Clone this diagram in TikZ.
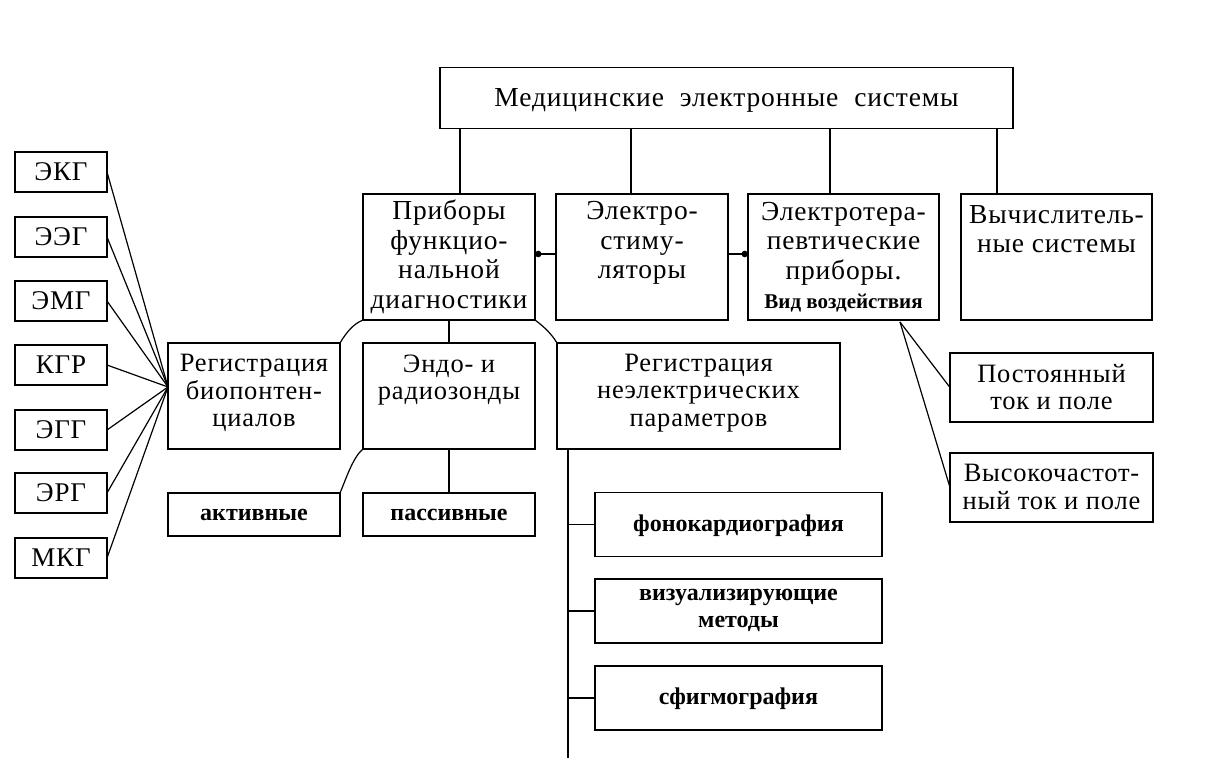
\documentclass[tikz,border=0pt]{standalone}
\usepackage{fontspec}
\setmainfont{Liberation Serif}[LetterSpace=3]
\newfontfamily\plainf{Liberation Serif}
\usetikzlibrary{arrows.meta,calc}
\newcommand\bigtxt{\fontsize{27.5}{29.5}\selectfont}
\newcommand\midtxt{\fontsize{26.5}{27.5}\selectfont}
\newcommand\lowtxt{\plainf\bfseries\fontsize{24}{27}\selectfont}
\newcommand\vidtxt{\plainf\bfseries\fontsize{21}{27}\selectfont}
\newcommand\keytxt{\fontsize{27}{29}\selectfont}
\begin{document}
\begin{tikzpicture}[x=1pt,y=-1pt,
  box/.style={draw, line width=1.5pt, inner sep=0pt, outer sep=0pt},
  txt/.style={align=center, inner sep=0pt, font=\bigtxt},
  mtxt/.style={align=center, inner sep=0pt, font=\midtxt},
  ltxt/.style={align=center, inner sep=0pt, font=\lowtxt},
  ktxt/.style={align=center, inner sep=0pt, font=\keytxt},
  ln/.style={line width=1.2pt},
  dot/.style={line width=1.2pt, -{Circle[length=6.5pt]}}
]
\useasboundingbox (0,0) rectangle (1228,767);

% top
\node[box, minimum width=573pt, minimum height=61pt] (top) at (726.5,98) {};
\node[txt] (topT) at (726.5,100) {Медицинские\hspace{0.3em} электронные\hspace{0.3em} системы};

% second row
\node[box, minimum width=172pt, minimum height=126pt] (A) at (449,257) {};
\node[box, minimum width=172pt, minimum height=126pt] (B) at (642,257) {};
\node[box, minimum width=191pt, minimum height=126pt] (C) at (843.5,257) {};
\node[box, minimum width=191pt, minimum height=126pt] (D) at (1056.5,257) {};
\node[txt] (AT) at (449,257) {Приборы\\функцио-\\нальной\\диагностики};
\node[txt] (BT) at (642,243) {Электро-\\стиму-\\ляторы};
\node[txt] (CT) at (843.5,257) {Электротера-\\певтические\\приборы.\\{\vidtxt Вид воздействия}};
\node[txt] (DT) at (1056.5,229) {Вычислитель-\\ные системы};

% third row
\node[box, minimum width=172pt, minimum height=106pt] (R1) at (254,396) {};
\node[box, minimum width=172pt, minimum height=106pt] (R2) at (449,396) {};
\node[box, minimum width=283pt, minimum height=106pt] (R3) at (698.5,396) {};
\node[mtxt] (R1T) at (254,393) {Регистрация\\биопонтен-\\циалов};
\node[mtxt] (R2T) at (449,380) {Эндо- и\\радиозонды};
\node[mtxt] (R3T) at (698.5,393) {Регистрация\\неэлектрических\\параметров};

% fourth row
\node[box, minimum width=172pt, minimum height=43pt] (act) at (254,514.5) {};
\node[box, minimum width=172pt, minimum height=43pt] (pas) at (449,514.5) {};
\node[ltxt] (actT) at (254,515) {активные};
\node[ltxt] (pasT) at (449,515) {пассивные};

% non-electric column
\node[box, minimum width=287pt, minimum height=64pt] (F1) at (738.5,524.5) {};
\node[box, minimum width=287pt, minimum height=64pt] (F2) at (738.5,611) {};
\node[box, minimum width=287pt, minimum height=64pt] (F3) at (738.5,698) {};
\node[ltxt] (F1T) at (738.5,526) {фонокардиография};
\node[ltxt] (F2T) at (738.5,610) {визуализирующие\\методы};
\node[ltxt] (F3T) at (738.5,699) {сфигмография};

% right column
\node[box, minimum width=203pt, minimum height=69pt] (P) at (1051.5,387.5) {};
\node[box, minimum width=203pt, minimum height=69pt] (V) at (1051.5,487.5) {};
\node[mtxt] (PT) at (1051.5,387) {Постоянный\\ток и поле};
\node[mtxt] (VT) at (1051.5,487) {Высокочастот-\\ный ток и поле};

% left column
\foreach \nm/\t/\yy in {k1/ЭКГ/172, k2/ЭЭГ/237, k3/ЭМГ/301, k4/КГР/365, k5/ЭГГ/430, k6/ЭРГ/493, k7/МКГ/558}{
  \node[box, minimum width=92pt, minimum height=40pt] (\nm) at (61,\yy) {};
  \node[ktxt] (\nm T) at (61,\yy) {\t};
}

% connectors: top to second row
\coordinate (x1) at (460,0);
\coordinate (x2) at (631,0);
\coordinate (x3) at (830,0);
\coordinate (x4) at (997,0);
\foreach \xx/\bb in {x1/A, x2/B, x3/C, x4/D}{
  \draw[ln] (top.south -| \xx) -- (\bb.north -| \xx);
}
\coordinate (yarr) at (0,254);
\draw[dot] (B.west |- yarr) -- (A.east |- yarr);
\draw[dot] (B.east |- yarr) -- (C.west |- yarr);

% A to third row
\draw[ln] (A.south) -- (R2.north);
\draw[ln] (A.south west) .. controls +(-10,4) and +(6,-10) .. (R1.north east);
\draw[ln] (A.south east) .. controls +(8,6) and +(-6,-10) .. (R3.north west);

% R2 to fourth row
\draw[ln] (R2.south) -- (pas.north);
\draw[ln] (R2.south west) .. controls +(-10,8) and +(6,-14) .. (act.north east);

% non-electric branch
\coordinate (xv) at (568,0);
\coordinate (yend) at (0,758);
\draw[ln] (R3.south -| xv) -- (xv |- yend);
\foreach \ff in {F1,F2,F3}{
  \draw[ln] (xv |- \ff.west) -- (\ff.west);
}

% left column to R1
\coordinate (conv) at ($(R1.west)+(0,-9)$);
\foreach \nm in {k1,k2,k3,k4,k5,k6,k7}{
  \draw[ln] (\nm.east) -- (conv);
}

% C to right column
\coordinate (cv) at ($(C.south west)+(152,2)$);
\draw[ln] (cv) -- (P.west);
\draw[ln] (cv) -- (V.west);
\end{tikzpicture}
\end{document}
